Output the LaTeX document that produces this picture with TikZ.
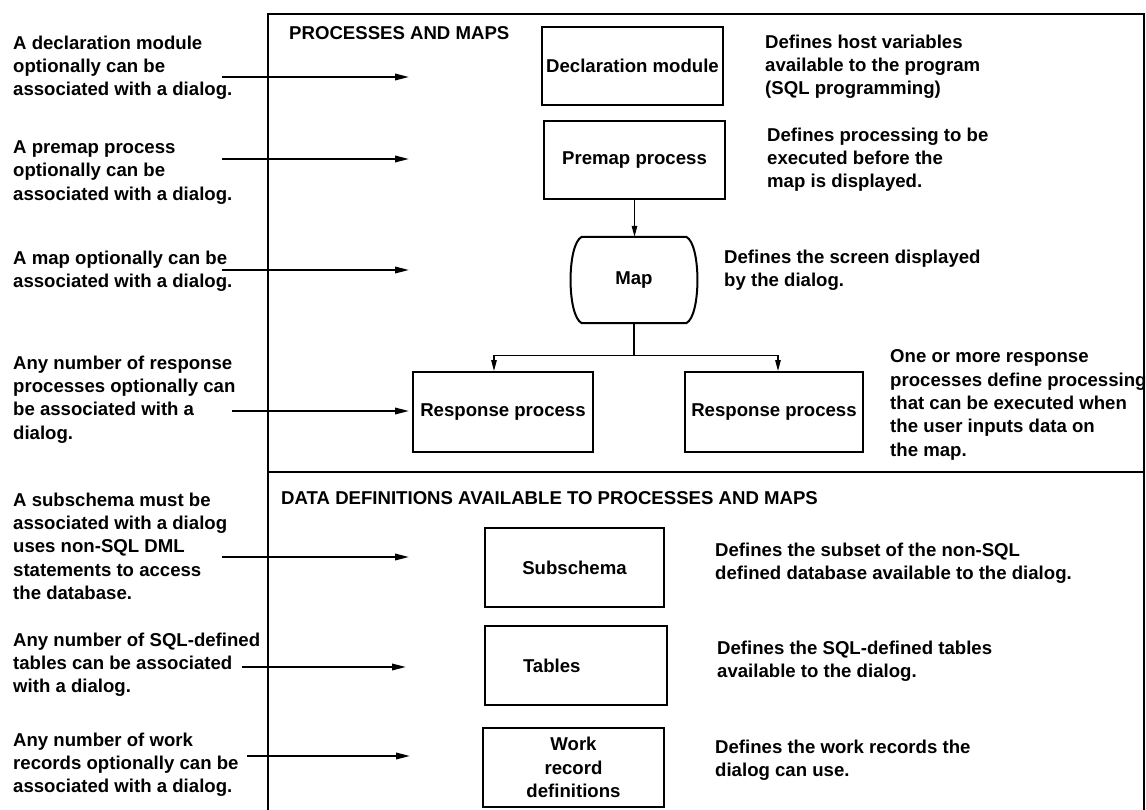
\documentclass[tikz,border=0pt]{standalone}
\usepackage{fontspec}
\setmainfont{Liberation Sans}
\usetikzlibrary{arrows.meta, positioning, calc}

\tikzset{
  every node/.style={font=\bfseries\fontsize{18.6}{23.4}\selectfont, inner sep=0pt},
  box/.style={draw, line width=2pt, minimum width=180pt, minimum height=79pt},
  note/.style={anchor=north west, align=left},
  frameline/.style={line width=2.6pt},
  pointer/.style={line width=1.8pt, -{Triangle[length=14pt,width=6.5pt]}},
  flow/.style={line width=1.3pt, -{Triangle[length=11pt,width=5.5pt]}},
}

\begin{document}
\begin{tikzpicture}[x=1pt, y=-1pt]
  \useasboundingbox (0,0) rectangle (1146,810);

  % frame and divider
  \draw[frameline] (268,810) -- (268,14) -- (1144,14) -- (1144,810);
  \draw[frameline] (268,472) -- (1144,472);
  \node[anchor=base west] (titleTop) at (289,40) {PROCESSES AND MAPS};
  \node[anchor=base west] (titleBot) at (281,504) {DATA DEFINITIONS AVAILABLE TO PROCESSES AND MAPS};

  % processes and maps
  \node[box, minimum width=181pt, minimum height=78pt] (decl) at (632.5,66) {Declaration module};
  \node[box, minimum width=181pt, minimum height=78pt] (premap) at (634.5,160) {Premap process};
  \node[minimum width=104pt, minimum height=86pt] (map) at (634,280) {Map};
  \draw[line width=2pt] (map.north west) -- (map.north east)
    .. controls +(15,7) and +(15,-7) .. (map.south east) -- (map.south west)
    .. controls +(-15,-7) and +(-15,7) .. (map.north west) -- cycle;
  \node[box, minimum height=80pt] (respA) at (503,412) {Response process};
  \node[box, minimum width=178pt, minimum height=80pt] (respB) at (774,412) {Response process};

  \draw[flow] (premap.south) -- (premap.south |- map.north);
  \draw[line width=1.3pt] (map.south) -- ++(0,32) coordinate (fork);
  \draw[flow] (fork) -| ([xshift=-9pt]respA.north);
  \draw[flow] (fork) -| ([xshift=4pt]respB.north);

  % data definitions
  \node[box, minimum width=179pt] (subschema) at (574.5,567.5) {Subschema};
  \node[box, align=left, text width=106pt, inner xsep=38pt] (tables) at (576,665.5) {Tables};
  \node[box, minimum width=181pt, align=center] (workrec) at (573.5,767.5) {Work\\record\\definitions};

  % notes on the left
  \node[note] (whyDecl) at (13,35.5) {A declaration module\\optionally can be\\associated with a dialog.};
  \node[note] (whyPremap) at (13,140.5) {A premap process\\optionally can be\\associated with a dialog.};
  \node[note] (whyMap) at (13,250.5) {A map optionally can be\\associated with a dialog.};
  \node[note] (whyResp) at (13,355.5) {Any number of response\\processes optionally can\\be associated with a\\dialog.};
  \node[note] (whySub) at (13,492.5) {A subschema must be\\associated with a dialog\\uses non-SQL DML\\statements to access\\the database.};
  \node[note] (whyTab) at (13,632.5) {Any number of SQL-defined\\tables can be associated\\with a dialog.};
  \node[note] (whyWork) at (13,732.5) {Any number of work\\records optionally can be\\associated with a dialog.};

  % notes on the right
  \node[note] (defDecl) at (765,34.5) {Defines host variables\\available to the program\\(SQL programming)};
  \node[note] (defPremap) at (767,127.5) {Defines processing to be\\executed before the\\map is displayed.};
  \node[note] (defMap) at (724,249.5) {Defines the screen displayed\\by the dialog.};
  \node[note] (defResp) at (890,349.5) {One or more response\\processes define processing\\that can be executed when\\the user inputs data on\\the map.};
  \node[note] (defSub) at (715,542.5) {Defines the subset of the non-SQL\\defined database available to the dialog.};
  \node[note] (defTab) at (717,640.5) {Defines the SQL-defined tables\\available to the dialog.};
  \node[note] (defWork) at (715,739.5) {Defines the work records the\\dialog can use.};

  % pointers into the frame
  \coordinate (fromDecl) at (222,77);    \coordinate (toDecl) at (409,77);
  \coordinate (fromPremap) at (222,159); \coordinate (toPremap) at (409,159);
  \coordinate (fromMap) at (222,270);    \coordinate (toMap) at (409,270);
  \coordinate (fromResp) at (232,411);   \coordinate (toResp) at (409,411);
  \coordinate (fromSub) at (222,557);    \coordinate (toSub) at (409,557);
  \coordinate (fromTab) at (242,667);    \coordinate (toTab) at (406,667);
  \coordinate (fromWork) at (247,756);   \coordinate (toWork) at (410,756);
  \draw[pointer] (fromDecl) -- (toDecl);
  \draw[pointer] (fromPremap) -- (toPremap);
  \draw[pointer] (fromMap) -- (toMap);
  \draw[pointer] (fromResp) -- (toResp);
  \draw[pointer] (fromSub) -- (toSub);
  \draw[pointer] (fromTab) -- (toTab);
  \draw[pointer] (fromWork) -- (toWork);
\end{tikzpicture}
\end{document}
